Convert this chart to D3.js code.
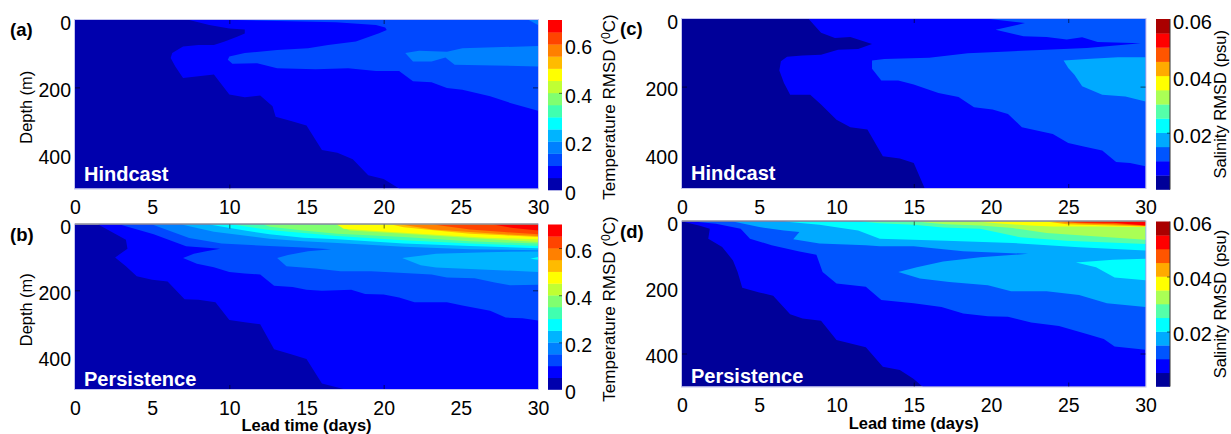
<!DOCTYPE html>
<html>
<head>
<meta charset="utf-8">
<script src="https://cdnjs.cloudflare.com/ajax/libs/d3/7.8.5/d3.min.js"></script>
<style>
  html, body { margin: 0; padding: 0; background: #fff; }
  svg { display: block; }
  text { font-family: "Liberation Sans", Arial, sans-serif; fill: #000; }
</style>
</head>
<body>
<script>
const width = 1231;
const height = 434;

const dayTicks = [0, 5, 10, 15, 20, 25, 30];
const depthTicks = [0, 200, 400];
const tempTicks = [0, 0.2, 0.4, 0.6];
const saltTicks = [0.02, 0.04, 0.06];

// contour levels, low to high
const tempColors = ["#0000ad", "#0000ff", "#0048ff", "#0080ff", "#00b4ff", "#00ffff", "#40ffb0",
  "#80ff70", "#c0ff33", "#ffff00", "#ffbb00", "#ff8000", "#ff4400", "#ff0000"];
const saltColors = ["#000099", "#0000ff", "#0055ff", "#00aaff", "#00ffff", "#55ffaa",
  "#aaff55", "#ffff00", "#ffaa00", "#ff5500", "#ff0000", "#aa0000"];

// everything below is [lead day, depth m]

// (a) temperature hindcast
const aLevel1 = [[7.4,0],[8.7,15],[10,25],[11,28],[11,40],[10.5,50],[9.7,64],[9,74],[8,74],[7,79],[6.3,98],[6.2,113],[6.5,138],[7,172],[8,167],[9,162],[10,221],[11,229],[12,224],[12.8,256],[13,287],[14,300],[15,313],[16,386],[17,394],[18,413],[19,461],[20,472],[21,500],[30,500],[30,0]];
const aLevel2 = [[10.5,0],[13.1,3],[16.9,7],[19.5,15],[20.1,22],[20.2,30],[19.7,39],[18.2,64],[16.4,74],[15.1,84],[13.1,89],[11,98],[10,108],[9.9,118],[10.2,130],[11.8,128],[13.1,143],[15.6,146],[17.7,143],[19.5,151],[21,151],[21.9,182],[23.1,185],[24.1,202],[25.1,207],[26.9,226],[28.2,246],[30,269],[30,0]];
const aLevel3 = [[21.4,98],[22.3,91],[24.1,94],[25.1,84],[27.2,81],[30,77],[30,138],[27.2,135],[24.6,133],[24,111],[23.1,123],[21.9,123]];
const aLevel3Top = [[29.4,0],[30,0],[30,15]];

// (b) temperature persistence
const bLevel1 = [[1.5,0],[3.3,46],[3.4,74],[2.6,100],[3.3,127],[4,157],[5,168],[6,173],[7.1,227],[8,229],[9.1,236],[10,290],[11,297],[12,303],[12.9,379],[14,394],[15,409],[16,483],[17.4,500],[30,500],[30,0]];
const bLevel2 = [[2.9,0],[5.1,30],[7.2,66],[9.4,74],[8.5,81],[7.7,89],[7,102],[7.9,119],[9,130],[10,144],[11,149],[12,152],[12.9,186],[14.1,190],[15,198],[16,201],[17.9,198],[18.8,211],[20,213],[21,222],[22,236],[24.1,236],[25.1,246],[26.9,262],[27.9,283],[29,285],[30,292],[30,0]];
const bLevel3 = [[5,0],[7.4,41],[9.5,58],[12.6,65],[14.8,70],[16.6,75],[15.1,81],[13.8,93],[13.1,102],[13.7,127],[15.6,134],[17.2,142],[19.2,142],[21,147],[23.1,152],[24.1,161],[25.9,163],[27.2,176],[28.2,185],[30,183],[30,0]];
const bLevel4 = [[6.9,0],[9,22],[12.6,43],[14.8,51],[17,56],[21.3,68],[25.6,75],[30,78],[30,0]];
const bLevel4Lobe = [[21.2,102],[23.4,89],[26.7,84],[30,82],[30,144],[23.4,131],[22.4,124]];
const bLevel5 = [[8.7,0],[11,18],[12.6,30],[14.8,40],[17,45],[21.3,58],[25.6,65],[30,72],[30,0]];
const bLevel5Lobe = [[29.5,104],[30,99],[30,107]];
const bLevel6 = [[10.2,0],[12.6,17],[14.8,26],[17,35],[21.3,48],[25.6,58],[30,65],[30,0]];
const bLevel7 = [[12.2,0],[12.64,7],[14.8,18],[17,28],[21.3,38],[25.6,51],[30,58],[30,0]];
const bLevel8 = [[16.9,0],[17.8,18],[21.3,28],[25.6,41],[30,53],[30,0]];
const bLevel9 = [[17,0],[17.4,13],[20,21],[23.4,31],[26.7,40],[30,45],[30,0]];
const bLevel10 = [[20.5,0],[21.3,8],[23.4,18],[25.6,28],[27.8,33],[30,38],[30,0]];
const bLevel11 = [[21.1,0],[23.2,15],[25.6,23],[27.8,30],[30,35],[30,0]];
const bLevel12 = [[23.2,0],[25.6,15],[27.8,23],[30,30],[30,0]];
const bLevel13 = [[27.1,0],[28.4,11],[30,18],[30,0]];

// (c) salinity hindcast
const cLevel1 = [[8.2,0],[9,41],[9.9,56],[10.9,53],[12.3,74],[11.4,89],[10.1,91],[9,106],[7.8,108],[6.8,112],[6.4,125],[6.3,152],[6.6,189],[7,224],[8.3,224],[9,253],[10,298],[10.9,320],[12,327],[13,406],[14.1,413],[15,426],[15.7,500],[30,500],[30,0]];
const cLevel2 = [[19.9,0],[22.2,12],[20.3,32],[22.1,51],[23.6,53],[24.9,61],[25.9,54],[26.9,68],[29.7,72],[26.2,86],[23.6,91],[21.1,96],[18.5,101],[16,115],[13.1,118],[12.3,123],[12.3,147],[12.9,182],[14,182],[15,194],[16.6,219],[17.9,231],[18.9,261],[20.1,268],[21.1,281],[22,320],[24,340],[25,367],[26,377],[27.2,389],[28.1,423],[29,426],[30,436],[30,0]];
const cLevel3 = [[24.7,123],[26.2,118],[28.2,113],[30,113],[30,244],[28.7,229],[27.2,224],[25.9,199],[25.4,165],[25,145]];

// (d) salinity persistence
const dLevel1 = [[0,0],[1.1,12],[1.8,22],[1.7,52],[2.6,77],[3.3,118],[3.6,153],[3.9,201],[5,215],[5.9,225],[7,281],[7.8,294],[9,301],[10,359],[11.9,381],[13,440],[14.1,450],[15,477],[15.5,498],[15.6,500],[30,500],[30,0]];
const dLevel2 = [[0.7,0],[2.2,7],[3.8,22],[4.4,52],[5.8,72],[7.6,91],[8.7,101],[9.1,153],[10,188],[11.9,198],[12.9,238],[15,248],[16.8,259],[18.2,279],[19.8,287],[21.1,289],[22.6,306],[24.4,317],[26.2,341],[27.3,356],[28,379],[30,389],[30,0]];
const dLevel3 = [[3.3,0],[5,17],[6.6,27],[7.6,32],[7.2,54],[8.9,67],[11.9,72],[12.8,75],[15,75],[18.2,90],[22.4,98],[19.3,108],[16.9,121],[15.2,139],[14,153],[15.4,173],[17.3,183],[19.8,193],[21.3,211],[23.6,211],[25.7,223],[27.5,248],[30,259],[30,0]];
const dLevel4 = [[6.6,0],[8.9,10],[11.4,27],[12.8,52],[17.1,58],[21.4,65],[25.7,78],[30,88],[30,0]];
const dLevel4Lobe = [[25.5,124],[27.9,116],[30,113],[30,178],[28,170],[26.8,139]];
const dLevel5 = [[11.5,0],[12.8,5],[15,10],[16.9,18],[19.3,22],[21.9,48],[24.9,58],[30,68],[30,0]];
const dLevel6 = [[15,0],[17.1,8],[19.3,12],[21.4,20],[23.6,35],[25.7,42],[30,55],[30,0]];
const dLevel7 = [[19.1,0],[20.4,5],[22.5,12],[24,15],[26.8,15],[30,17],[30,0]];
const dLevel8 = [[23.6,0],[24.9,8],[27.9,12],[30,15],[30,0]];
const dLevel9 = [[24,0],[25.7,5],[27.9,8],[30,13],[30,0]];
const dLevel10 = [[24.5,0],[26.2,3],[27.9,4],[30,12],[30,0]];

// only some of the inner ticks survive in the picture
const aInnerDays = [10, 20];
const bInnerDays = [10, 20];
const cInnerDays = [15, 25];
const dInnerDays = [15, 25];
const aInnerDepths = [200];
const bInnerDepths = [200];
const cInnerDepths = [200];
const dInnerDepths = [400];
const aBarMarks = [0.4];
const bBarMarks = [0.2, 0.4, 0.6];
const cBarMarks = [0.02];
const dBarMarks = [0.02, 0.04];

const panels = [
  { letter: "(a)", letterX: 10, letterY: 36, x0: 75, x1: 538, y0: 20, y1: 188.5, barX: 548, barY0: 20, barY1: 190,
    name: "Hindcast", nameX: 84, nameY: 181, colors: tempColors, barMax: 0.7, barTicks: tempTicks, barFormat: d3.format(".1~f"), salt: false,
    innerDays: aInnerDays, innerDepths: aInnerDepths, barMarks: aBarMarks,
    bands: [[1, aLevel1], [2, aLevel2], [3, aLevel3], [3, aLevel3Top]] },
  { letter: "(b)", letterX: 10, letterY: 241, x0: 75, x1: 538, y0: 224.5, y1: 389, barX: 548, barY0: 224.5, barY1: 389.5,
    name: "Persistence", nameX: 84, nameY: 386, colors: tempColors, barMax: 0.7, barTicks: tempTicks, barFormat: d3.format(".1~f"), salt: false, xLabel: 431, topLine: true,
    innerDays: bInnerDays, innerDepths: bInnerDepths, barMarks: bBarMarks,
    bands: [[1, bLevel1], [2, bLevel2], [3, bLevel3], [4, bLevel4], [4, bLevel4Lobe], [5, bLevel5], [5, bLevel5Lobe], [6, bLevel6], [7, bLevel7], [8, bLevel8], [9, bLevel9], [10, bLevel10], [11, bLevel11], [12, bLevel12], [13, bLevel13]] },
  { letter: "(c)", letterX: 620, letterY: 35, x0: 682, x1: 1145.5, y0: 19, y1: 188, barX: 1156, barY0: 19, barY1: 189.5,
    name: "Hindcast", nameX: 691, nameY: 180, colors: saltColors, barMax: 0.06, barTicks: saltTicks, barFormat: d3.format(".2f"), salt: true,
    innerDays: cInnerDays, innerDepths: cInnerDepths, barMarks: cBarMarks,
    bands: [[1, cLevel1], [2, cLevel2], [3, cLevel3]] },
  { letter: "(d)", letterX: 620, letterY: 238, x0: 682, x1: 1145.5, y0: 221.5, y1: 386.5, barX: 1156, barY0: 221.5, barY1: 386.5,
    name: "Persistence", nameX: 691, nameY: 383, colors: saltColors, barMax: 0.06, barTicks: saltTicks, barFormat: d3.format(".2f"), salt: true, xLabel: 429, topLine: true,
    innerDays: dInnerDays, innerDepths: dInnerDepths, barMarks: dBarMarks,
    bands: [[1, dLevel1], [2, dLevel2], [3, dLevel3], [4, dLevel4], [4, dLevel4Lobe], [5, dLevel5], [6, dLevel6], [7, dLevel7], [8, dLevel8], [9, dLevel9], [10, dLevel10]] }
];

const svg = d3.select("body").append("svg")
  .attr("width", width)
  .attr("height", height);

panels.forEach((p) => {
  const x = d3.scaleLinear().domain([0, 30]).range([p.x0, p.x1]);
  const y = d3.scaleLinear().domain([0, 500]).range([p.y0, p.y1]);
  const line = d3.line()
    .x((d) => x(d[0]))
    .y((d) => y(d[1]))
    .curve(d3.curveLinearClosed);

  const g = svg.append("g");

  // lowest level fills the whole box, the rest are painted on top of it
  g.append("rect")
    .attr("x", p.x0)
    .attr("y", p.y0)
    .attr("width", p.x1 - p.x0)
    .attr("height", p.y1 - p.y0)
    .attr("fill", p.colors[0]);

  g.selectAll("path.band")
    .data(p.bands)
    .enter()
    .append("path")
    .attr("class", "band")
    .attr("d", (d) => line(d[1]))
    .attr("fill", (d) => p.colors[d[0]]);

  g.append("rect")
    .attr("x", p.x0 - 0.5)
    .attr("y", p.y0 - 0.5)
    .attr("width", p.x1 - p.x0 + 1)
    .attr("height", p.y1 - p.y0 + 1)
    .attr("fill", "none")
    .attr("stroke", "#c4c4f0")
    .attr("stroke-width", 1);

  if (p.topLine) {
    g.append("line")
      .attr("x1", p.x0)
      .attr("x2", p.x1)
      .attr("y1", p.y0 - 0.5)
      .attr("y2", p.y0 - 0.5)
      .attr("stroke", "#6e6e6e");
  }

  // labels outside, short inward ticks
  const bottom = g.append("g")
    .attr("transform", `translate(0,${p.y1})`)
    .call(d3.axisBottom(x).tickValues(dayTicks).tickSize(0).tickPadding(12));
  const left = g.append("g")
    .attr("transform", `translate(${p.x0},0)`)
    .call(d3.axisLeft(y).tickValues(depthTicks).tickSize(0).tickPadding(4));
  const inner = [
    g.append("g").attr("transform", `translate(0,${p.y1})`).call(d3.axisBottom(x).tickValues(p.innerDays).tickSize(-4).tickFormat("")),
    g.append("g").attr("transform", `translate(0,${p.y0})`).call(d3.axisTop(x).tickValues(p.innerDays).tickSize(-4).tickFormat("")),
    g.append("g").attr("transform", `translate(${p.x0},0)`).call(d3.axisLeft(y).tickValues(p.innerDepths).tickSize(-5).tickFormat("")),
    g.append("g").attr("transform", `translate(${p.x1},0)`).call(d3.axisRight(y).tickValues(p.innerDepths).tickSize(-5).tickFormat(""))
  ];
  inner.forEach((a) => {
    a.select(".domain").remove();
    a.selectAll("line").attr("stroke", "#000").attr("stroke-opacity", 0.75).attr("stroke-width", 0.8);
  });
  bottom.select(".domain").remove();
  left.select(".domain").remove();
  bottom.selectAll("text").style("font-size", "19.5px").style("font-family", "Liberation Sans");
  left.selectAll("text").style("font-size", "19.5px").style("font-family", "Liberation Sans").attr("dy", "0.47em");

  g.append("text")
    .attr("x", p.nameX)
    .attr("y", p.nameY)
    .attr("fill", "#fff")
    .style("fill", "#fff")
    .style("font-size", "20px")
    .style("font-weight", "bold")
    .text(p.name);

  g.append("text")
    .attr("x", p.letterX)
    .attr("y", p.letterY)
    .style("font-size", "18.5px")
    .style("font-weight", "bold")
    .text(p.letter);

  // Depth (m) only on the left-hand panels
  if (!p.salt) {
    g.append("text")
      .attr("transform", `translate(32,${(p.y0 + p.y1) / 2 + 3}) rotate(-90)`)
      .attr("text-anchor", "middle")
      .style("font-size", "16.4px")
      .text("Depth (m)");
  }

  if (p.xLabel) {
    g.append("text")
      .attr("x", (p.x0 + p.x1) / 2)
      .attr("y", p.xLabel)
      .attr("text-anchor", "middle")
      .style("font-size", "16.5px")
      .style("font-weight", "bold")
      .text("Lead time (days)");
  }

  // colorbar
  const levels = p.colors.length;
  const barY = d3.scaleLinear().domain([0, p.barMax]).range([p.barY1, p.barY0]);
  const step = p.barMax / levels;
  const bar = g.append("g");
  bar.selectAll("rect")
    .data(p.colors)
    .enter()
    .append("rect")
    .attr("x", p.barX)
    .attr("y", (d, i) => barY((i + 1) * step))
    .attr("width", 14)
    .attr("height", (d, i) => barY(i * step) - barY((i + 1) * step) + 0.3)
    .attr("fill", (d) => d);

  if (p.salt) {
    g.append("line")
      .attr("x1", p.barX + 14)
      .attr("x2", p.barX + 14)
      .attr("y1", p.barY0)
      .attr("y2", p.barY1)
      .attr("stroke", "#333");
  }

  const barMarks = g.append("g")
    .attr("transform", `translate(${p.barX + 14},0)`)
    .call(d3.axisRight(barY).tickValues(p.barMarks).tickSize(-3).tickFormat(""));
  barMarks.select(".domain").remove();
  barMarks.selectAll("line").attr("stroke", "#000").attr("stroke-opacity", 0.7).attr("stroke-width", 0.8);

  const barAxis = g.append("g")
    .attr("transform", `translate(${p.barX + 14},0)`)
    .call(d3.axisRight(barY).tickValues(p.barTicks).tickFormat(p.barFormat).tickSize(0).tickPadding(3));
  barAxis.select(".domain").remove();
  barAxis.selectAll("text")
    .style("font-size", p.salt ? "20px" : "19.5px")
    .style("font-family", "Liberation Sans")
    .attr("dy", "0.47em");

  const title = g.append("text")
    .attr("transform", p.salt
      ? `translate(1226,${(p.barY0 + p.barY1) / 2 + 0}) rotate(-90)`
      : `translate(615,${(p.barY0 + p.barY1) / 2 + 2}) rotate(-90)`)
    .attr("text-anchor", "middle")
    .style("font-size", p.salt ? "16.5px" : "17px");
  if (p.salt) {
    title.text("Salinity RMSD (psu)");
  } else {
    title.append("tspan").text("Temperature RMSD (");
    title.append("tspan").attr("dy", "-0.45em").style("font-size", "12px").text("0");
    title.append("tspan").attr("dy", "0.32em").text("C)");
  }
});
</script>
</body>
</html>
